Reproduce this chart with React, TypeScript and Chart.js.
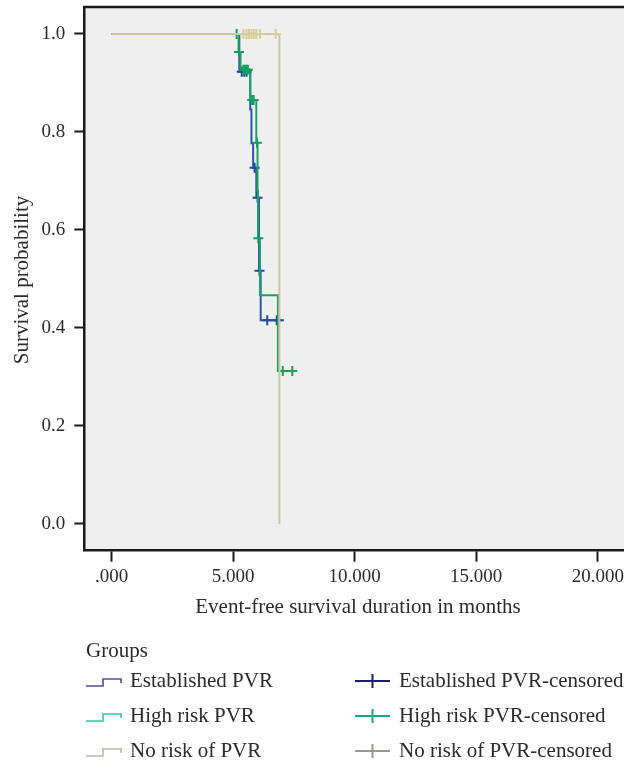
import React, { useEffect, useRef } from 'react';
import { Chart, registerables } from 'chart.js';

Chart.register(...registerables);

// ---------- data ----------
const xTickValues = [0, 5, 10, 15, 20];
const yTickValues = [0, 0.2, 0.4, 0.6, 0.8, 1.0];

// Established PVR: Kaplan-Meier steps (time, survival)
const establishedTimes = [0, 5.25, 5.7, 5.75, 5.82, 5.95, 6.06, 6.13, 6.88];
const establishedSurv = [1.0, 0.923, 0.846, 0.777, 0.727, 0.666, 0.517, 0.416, 0.416];
const establishedCensorTimes = [5.35, 5.45, 5.55, 5.88, 6.0, 6.08, 6.4, 6.79, 6.88];
const establishedCensorSurv = [0.923, 0.923, 0.923, 0.727, 0.666, 0.517, 0.416, 0.416, 0.416];

// High risk PVR
const highRiskTimes = [0, 5.22, 5.3, 5.7, 5.95, 6.0, 6.02, 6.1, 6.84, 7.43];
const highRiskSurv = [1.0, 0.963, 0.927, 0.865, 0.778, 0.68, 0.583, 0.467, 0.312, 0.312];
const highRiskCensorTimes = [5.14, 5.24, 5.42, 5.48, 5.54, 5.6, 5.78, 5.84, 5.98, 6.03, 7.04, 7.43];
const highRiskCensorSurv = [1.0, 0.963, 0.927, 0.927, 0.927, 0.927, 0.865, 0.865, 0.778, 0.583, 0.312, 0.312];

// No risk of PVR
const noRiskTimes = [0, 6.9];
const noRiskSurv = [1.0, 0.0];
const noRiskCensorTimes = [5.42, 5.55, 5.65, 5.75, 5.85, 5.95, 6.1, 6.75];
const noRiskCensorSurv = [1, 1, 1, 1, 1, 1, 1, 1];

const groupLabels = ['Established PVR', 'High risk PVR', 'No risk of PVR'];
const censoredLabels = ['Established PVR-censored', 'High risk PVR-censored', 'No risk of PVR-censored'];

const xTitle = 'Event-free survival duration in months';
const yTitle = 'Survival probability';
const legendTitle = 'Groups';

// ---------- styles ----------
const lineColors = ['#2d56a6', '#1ea163', '#ccc6a6'];
const censorColors = ['#1f4c9e', '#14a05c', '#d8cc98'];
const legendLineColors = ['#4d4d9c', '#3cc3a3', '#b8b8aa'];
const legendCrossColors = ['#1e1f6c', '#16a585', '#9a9a8b'];
const SERIF = '"Liberation Serif", "Times New Roman", serif';
const TEXT = '#2b2b2b';

const pts = (xs: number[], ys: number[]) => xs.map((x, i) => ({ x, y: ys[i] }));

const decorPlugin = {
  id: 'decor',
  beforeDraw(chart: any) {
    const { ctx, chartArea: a, width, height } = chart;
    ctx.save();
    ctx.fillStyle = '#ffffff';
    ctx.fillRect(0, 0, width, height);
    ctx.fillStyle = '#efefef';
    ctx.fillRect(a.left, a.top, a.right - a.left, a.bottom - a.top);
    ctx.restore();
  },
  afterDraw(chart: any) {
    const { ctx, chartArea: a } = chart;
    ctx.save();
    // top frame line
    ctx.strokeStyle = '#1a1a1a';
    ctx.lineWidth = 2.5;
    ctx.beginPath();
    ctx.moveTo(a.left - 1.25, a.top);
    ctx.lineTo(a.right, a.top);
    ctx.stroke();

    // axis titles
    ctx.fillStyle = TEXT;
    ctx.font = `21px ${SERIF}`;
    ctx.textAlign = 'center';
    ctx.textBaseline = 'middle';
    ctx.fillText(xTitle, 358, 607);
    ctx.save();
    ctx.translate(22, 280);
    ctx.rotate(-Math.PI / 2);
    ctx.fillText(yTitle, 0, 0);
    ctx.restore();

    // legend
    ctx.textAlign = 'left';
    ctx.fillText(legendTitle, 86, 651);
    const rows = [681, 716, 751];
    rows.forEach((y, i) => {
      // step icon
      ctx.strokeStyle = legendLineColors[i];
      ctx.lineWidth = 1.6;
      ctx.beginPath();
      ctx.moveTo(86, y + 5);
      ctx.lineTo(103, y + 5);
      ctx.lineTo(103, y - 2);
      ctx.lineTo(121, y - 2);
      ctx.lineTo(121, y + 2);
      ctx.stroke();
      ctx.fillStyle = TEXT;
      ctx.fillText(groupLabels[i], 130, y);
      // cross icon
      ctx.strokeStyle = legendCrossColors[i];
      ctx.lineWidth = 2;
      ctx.beginPath();
      ctx.moveTo(355, y);
      ctx.lineTo(390, y);
      ctx.moveTo(372.5, y - 7);
      ctx.lineTo(372.5, y + 7);
      ctx.stroke();
      ctx.fillText(censoredLabels[i], 399, y);
    });
    ctx.restore();
  },
};

export default function App() {
  const ref = useRef<HTMLCanvasElement | null>(null);

  useEffect(() => {
    if (!ref.current) return;
    const lineDs = (label: string, data: any[], color: string, w: number) => ({
      label,
      data,
      showLine: true,
      stepped: true,
      borderColor: color,
      backgroundColor: color,
      borderWidth: w,
      pointRadius: 0,
      pointHoverRadius: 0,
    });
    const censorDs = (label: string, data: any[], color: string) => ({
      label,
      data,
      showLine: false,
      pointStyle: 'cross',
      pointRadius: 5,
      pointBorderWidth: 2,
      borderColor: color,
      backgroundColor: color,
    });

    const chart = new Chart(ref.current, {
      type: 'scatter',
      data: {
        datasets: [
          censorDs(censoredLabels[2], pts(noRiskCensorTimes, noRiskCensorSurv), censorColors[2]),
          lineDs(groupLabels[2], pts(noRiskTimes, noRiskSurv), lineColors[2], 2),
          censorDs(censoredLabels[1], pts(highRiskCensorTimes, highRiskCensorSurv), censorColors[1]),
          lineDs(groupLabels[1], pts(highRiskTimes, highRiskSurv), lineColors[1], 2),
          censorDs(censoredLabels[0], pts(establishedCensorTimes, establishedCensorSurv), censorColors[0]),
          lineDs(groupLabels[0], pts(establishedTimes, establishedSurv), lineColors[0], 2),
        ] as any,
      },
      options: {
        responsive: false,
        devicePixelRatio: 1,
        animation: false,
        events: [],
        layout: { autoPadding: false, padding: { top: 7, left: 0, right: 0, bottom: 0 } },
        plugins: {
          legend: { display: false },
          tooltip: { enabled: false },
          title: { display: false },
        },
        scales: {
          x: {
            type: 'linear',
            min: -1.128,
            max: 21.08,
            afterBuildTicks: (s: any) => {
              s.ticks = xTickValues.map((v) => ({ value: v }));
            },
            afterFit: (s: any) => {
              s.height = 765 - 550.7;
              s.paddingLeft = 0;
              s.paddingRight = 0;
            },
            ticks: {
              autoSkip: false,
              maxRotation: 0,
              padding: 4,
              color: TEXT,
              font: { family: SERIF, size: 19 },
              callback: (v: any) => (Number(v) === 0 ? '.000' : Number(v).toFixed(3)),
            },
            grid: {
              display: true,
              drawOnChartArea: false,
              drawTicks: true,
              tickLength: 11,
              tickWidth: 2,
              tickColor: '#1a1a1a',
            },
            border: { display: true, color: '#1a1a1a', width: 2.5 },
          },
          y: {
            type: 'linear',
            min: -0.0545,
            max: 1.055,
            afterBuildTicks: (s: any) => {
              s.ticks = yTickValues.map((v) => ({ value: v }));
            },
            afterFit: (s: any) => {
              s.width = 84.3;
              s.paddingTop = 0;
              s.paddingBottom = 0;
            },
            ticks: {
              padding: 9,
              color: TEXT,
              font: { family: SERIF, size: 19 },
              callback: (v: any) => Number(v).toFixed(1),
            },
            grid: {
              display: true,
              drawOnChartArea: false,
              drawTicks: true,
              tickLength: 10,
              tickWidth: 2,
              tickColor: '#1a1a1a',
            },
            border: { display: true, color: '#1a1a1a', width: 2.5 },
          },
        },
      } as any,
      plugins: [decorPlugin],
    });
    return () => chart.destroy();
  }, []);

  return (
    <div style={{ position: 'absolute', left: 0, top: 0, width: 624, height: 765, background: '#fff' }}>
      <canvas ref={ref} width={624} height={765} style={{ display: 'block', width: 624, height: 765 }} />
    </div>
  );
}
